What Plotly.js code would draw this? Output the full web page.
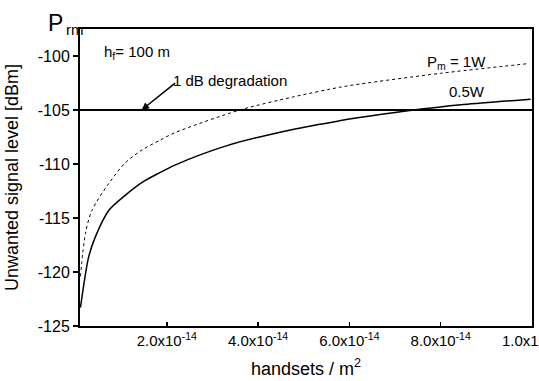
<!DOCTYPE html>
<html>
<head>
<meta charset="utf-8">
<script src="https://cdn.plot.ly/plotly-3.0.1.min.js"></script>
<style>html,body{margin:0;padding:0;background:#fff;}#chart{width:539px;height:381px;}</style>
</head>
<body>
<div id="chart"></div>
<script>
// handsets per m^2
const density1W = [0.11e-14, 0.22e-14, 0.36e-14, 0.73e-14, 1.09e-14, 1.46e-14, 1.85e-14, 2.18e-14, 3.60e-14, 4.76e-14, 5.78e-14, 6.22e-14, 8.0e-14, 9.93e-14];
const level1W   = [-120.4, -116.4, -114.3, -111.8, -109.9, -108.7, -107.8, -107.1, -105.0, -103.8, -102.9, -102.6, -101.6, -100.7];
const density05W = [0.11e-14, 0.29e-14, 0.44e-14, 0.73e-14, 1.09e-14, 1.46e-14, 1.85e-14, 2.18e-14, 3.32e-14, 4.76e-14, 5.78e-14, 6.22e-14, 7.24e-14, 8.5e-14, 9.97e-14];
const level05W   = [-123.3, -118.6, -116.7, -114.3, -112.9, -111.7, -110.8, -110.1, -108.3, -106.8, -106.0, -105.7, -105.1, -104.5, -104.0];
const degradationX = [0.1e-14, 10e-14];
const degradationY = [-105, -105];
const xTickVals = [2e-14, 4e-14, 6e-14, 8e-14, 10e-14];
const xTickText = ['2.0x10<sup>-14</sup>', '4.0x10<sup>-14</sup>', '6.0x10<sup>-14</sup>', '8.0x10<sup>-14</sup>', '1.0x10<sup>-13</sup>'];
const yTickVals = [-125, -120, -115, -110, -105, -100];
const yTickText = ['-125', '-120', '-115', '-110', '-105', '-100'];

const F = 'Liberation Sans, Arial, Helvetica, sans-serif';

const traces = [
  {x: degradationX, y: degradationY, mode: 'lines', line: {color: '#000', width: 2}, hoverinfo: 'none'},
  {x: density1W, y: level1W, mode: 'lines', line: {color: '#000', width: 1, dash: 'dot', shape: 'spline', smoothing: 0.8}},
  {x: density05W, y: level05W, mode: 'lines', line: {color: '#000', width: 1.5, shape: 'spline', smoothing: 0.8}}
];

const layout = {
  width: 539, height: 381,
  margin: {l: 80, r: 7, t: 29, b: 55},
  paper_bgcolor: '#fff', plot_bgcolor: '#fff',
  showlegend: false,
  font: {family: F, color: '#000'},
  xaxis: {
    range: [0.1e-14, 10e-14], tickvals: xTickVals, ticktext: xTickText,
    ticks: 'inside', ticklen: 4, tickwidth: 1.5, tickcolor: '#000',
    showline: true, linecolor: '#000', linewidth: 2, mirror: true,
    showgrid: false, zeroline: false, ticklabeloverflow: 'allow',
    tickfont: {family: F, size: 15, color: '#000'},
    title: {text: 'handsets / m<sup>2</sup>', font: {family: F, size: 18, color: '#000'}, standoff: 14}
  },
  yaxis: {
    range: [-125, -97.5], tickvals: yTickVals, ticktext: yTickText,
    ticks: 'outside', ticklen: 5, tickwidth: 1.5, tickcolor: '#000',
    showline: true, linecolor: '#000', linewidth: 2, mirror: true,
    showgrid: false, zeroline: false,
    tickfont: {family: F, size: 16, color: '#000'},
    title: {text: 'Unwanted signal level [dBm]', font: {family: F, size: 18, color: '#000'}, standoff: 14}
  },
  annotations: [
    {x: 1.45e-14, y: -105, xref: 'x', yref: 'y', text: '', showarrow: true, ax: 35, ay: -28,
     arrowhead: 2, arrowsize: 1, arrowwidth: 1.5, arrowcolor: '#000'},
    {x: 2.10e-14, y: -102.29, xref: 'x', yref: 'y', text: '1 dB degradation', showarrow: false,
     xanchor: 'left', yanchor: 'middle', font: {family: F, size: 15, color: '#000'}},
    {x: 0.575e-14, y: -99.63, xref: 'x', yref: 'y', text: 'h<sub>f</sub>= 100 m', showarrow: false,
     xanchor: 'left', yanchor: 'middle', font: {family: F, size: 15, color: '#000'}},
    {x: 7.65e-14, y: -100.6, xref: 'x', yref: 'y', text: 'P<sub>m</sub> = 1W', showarrow: false,
     xanchor: 'left', yanchor: 'middle', font: {family: F, size: 15, color: '#000'}},
    {x: 8.13e-14, y: -103.3, xref: 'x', yref: 'y', text: '0.5W', showarrow: false,
     xanchor: 'left', yanchor: 'middle', font: {family: F, size: 15, color: '#000'}},
    {x: -0.076, y: 1.021, xref: 'paper', yref: 'paper', text: 'P', showarrow: false,
     xanchor: 'left', yanchor: 'middle', font: {family: F, size: 23, color: '#000'}},
    {x: -0.036, y: 1.0, xref: 'paper', yref: 'paper', text: 'rm', showarrow: false,
     xanchor: 'left', yanchor: 'middle', font: {family: F, size: 15, color: '#000'}}
  ]
};

Plotly.newPlot('chart', traces, layout, {staticPlot: true, displayModeBar: false});
</script>
</body>
</html>
